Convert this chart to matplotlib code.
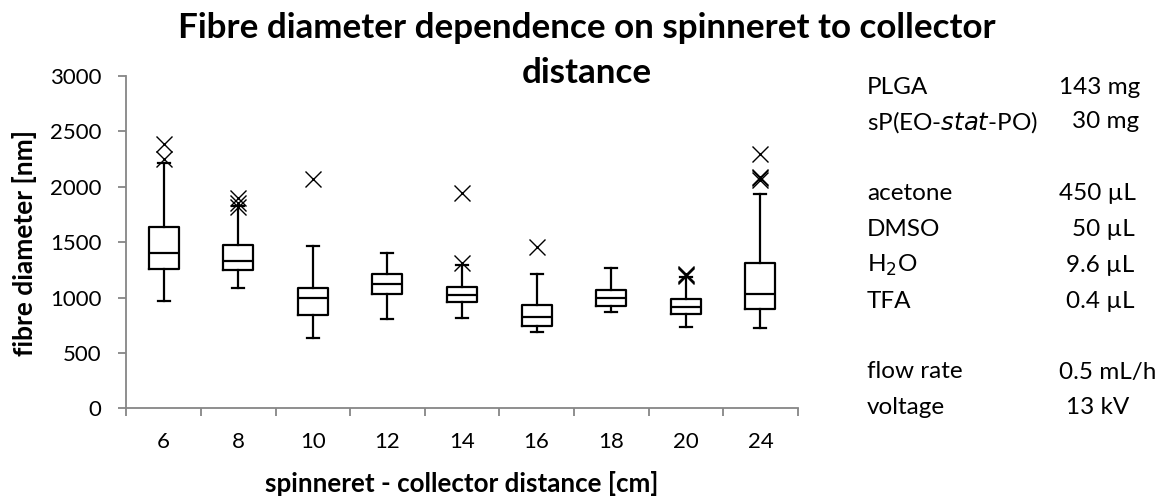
import matplotlib
matplotlib.use("Agg")
import matplotlib.pyplot as plt

plt.rcParams['font.family'] = ['Lato', 'DejaVu Sans']

# ---- data ----
distances = ["6", "8", "10", "12", "14", "16", "18", "20", "24"]
whislo = [966, 1084, 632, 809, 813, 686, 867, 737, 722]
q1 = [1258, 1252, 842, 1032, 963, 740, 927, 852, 897]
med = [1405, 1327, 999, 1120, 1023, 824, 999, 918, 1032]
q3 = [1640, 1477, 1089, 1210, 1098, 930, 1071, 984, 1315]
whishi = [2218, 1827, 1466, 1402, 1290, 1213, 1267, 1189, 1932]
outliers = [
    [2384, 2250],
    [1896, 1851, 1820],
    [2071],
    [],
    [1309, 1947],
    [1459],
    [],
    [1196, 1206, 1212],
    [2294, 2092, 2078, 2062],
]

title_lines = ["Fibre diameter dependence on spinneret to collector", "distance"]
xlabel = "spinneret - collector distance [cm]"
ylabel = "fibre diameter [nm]"
yticks = [0, 500, 1000, 1500, 2000, 2500, 3000]

info_labels = ["PLGA", "sP(EO-$\\it{stat}$-PO)", "acetone", "DMSO", "H$_2$O", "TFA",
               "flow rate", "voltage"]
info_values = ["143 mg", "30 mg", "450 µL", "50 µL", "9.6 µL", "0.4 µL",
               "0.5 mL/h", "13 kV"]

# ---- figure ----
W, H = 1168, 497
fig = plt.figure(figsize=(W / 100, H / 100), dpi=100)
ax_left, ax_right, ax_bottom, ax_top = 126.3, 797.7, 408.3, 76.0
ax = fig.add_axes([ax_left / W, 1 - ax_bottom / H, (ax_right - ax_left) / W,
                   (ax_bottom - ax_top) / H])

stats = []
for i in range(len(distances)):
    stats.append(dict(whislo=whislo[i], q1=q1[i], med=med[i], q3=q3[i],
                      whishi=whishi[i], fliers=outliers[i], label=distances[i]))

lw = 1.6
ax.bxp(stats, positions=range(len(distances)), widths=0.4, capwidths=0.16,
       showfliers=True,
       boxprops=dict(color='black', linewidth=lw),
       medianprops=dict(color='black', linewidth=lw),
       whiskerprops=dict(color='black', linewidth=lw),
       capprops=dict(color='black', linewidth=lw),
       flierprops=dict(marker='x', markersize=11, markeredgecolor='black',
                       markeredgewidth=1.0, linestyle='none'))

ax.set_xlim(-0.5, len(distances) - 0.5)
ax.set_ylim(0, 3000)
ax.set_yticks(yticks)
ax.set_yticklabels([str(t) for t in yticks])
ax.set_xticks(range(len(distances)))
ax.set_xticklabels(distances)
ax.set_xticks([i - 0.5 for i in range(len(distances) + 1)], minor=True)

gray = '#868686'
for s in ['top', 'right']:
    ax.spines[s].set_visible(False)
for s in ['left', 'bottom']:
    ax.spines[s].set_color(gray)
    ax.spines[s].set_linewidth(1.3)

ax.tick_params(axis='y', direction='out', length=6, width=1.3, color=gray,
               labelsize=16, pad=12)
ax.tick_params(axis='x', which='major', length=0, labelsize=16, pad=17)
ax.tick_params(axis='x', which='minor', direction='out', length=6, width=1.3,
               color=gray)

axw = ax_right - ax_left
axh = ax_bottom - ax_top
xl = ax.set_xlabel(xlabel, fontsize=15.5, fontweight='bold')
ax.xaxis.set_label_coords(0.5, (ax_bottom - 484) / axh)
xl.set_va('center')
yl = ax.set_ylabel(ylabel, fontsize=15.5, fontweight='bold')
ax.yaxis.set_label_coords((25 - ax_left) / axw, (ax_bottom - 243.5) / axh)
yl.set_va('center')

# title, two lines (baselines at 38 px and 83 px from the top)
t1 = fig.text(587 / W, 1 - 38 / H, title_lines[0], ha='center', va='baseline',
              fontsize=23, fontweight='bold')
t2 = fig.text(587 / W, 1 - 83 / H, title_lines[1], ha='center', va='baseline',
              fontsize=23, fontweight='bold')

rows_y = [87, 122, 193, 229, 265, 301, 372, 408]
val_x = [1059, 1072, 1059, 1072, 1066, 1066, 1059, 1066]
for lab, val, y, vx in zip(info_labels, info_values, rows_y, val_x):
    fig.text(867 / W, 1 - y / H, lab, ha='left', va='center', fontsize=17.5)
    fig.text(vx / W, 1 - y / H, val, ha='left', va='center', fontsize=17.5)


def fit_width(txt, target_px, horizontal=True):
    for _ in range(3):
        r = fig.canvas.get_renderer()
        bb = txt.get_window_extent(renderer=r)
        size = bb.width if horizontal else bb.height
        if size > 0:
            txt.set_fontsize(txt.get_fontsize() * target_px / size)


fit_width(t1, 818)
t2.set_fontsize(t1.get_fontsize())
fit_width(xl, 393)
fit_width(yl, 227, horizontal=False)

fig.savefig("out.png", dpi=100)
